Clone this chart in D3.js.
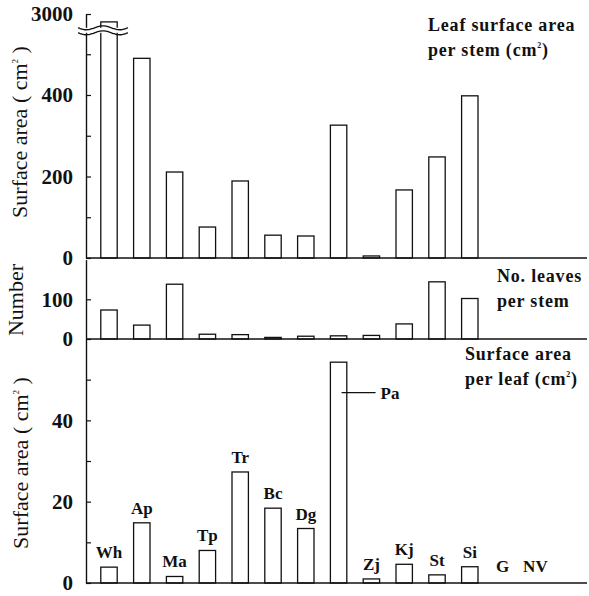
<!DOCTYPE html>
<html lang="en">
<head>
  <meta charset="UTF-8">
  <title>Leaf surface area</title>
  <style>
    body, html { margin: 0; padding: 0; background: #fff; }
    #svg { display: block; }
  </style>
</head>
<body>
  <svg id="svg" width="589" height="596" font-family="Liberation Serif"></svg>
  <script src="https://d3js.org/d3.v7.min.js"></script>
  <script>
    // ----- DATA ----------
    const categories = ['Wh', 'Ap', 'Ma', 'Tp', 'Tr', 'Bc', 'Dg', 'Pa', 'Zj', 'Kj', 'St', 'Si', 'G', 'NV']
    // leaf surface area per stem (cm2), Wh goes past the axis break
    const areaPerStem = [2850, 490, 211, 76, 189, 56, 54, 326, 5, 167, 248, 398, 0, 0]
    // number of leaves per stem
    const leavesPerStem = [73, 35, 138, 12, 11, 4, 7, 8, 9, 38, 144, 102, 0, 0]
    // surface area per leaf (cm2)
    const areaPerLeaf = [3.9, 14.8, 1.6, 8.0, 27.3, 18.4, 13.4, 54.3, 1.0, 4.6, 2.0, 4.0, 0, 0]

    const topTicks = [0, 100, 200, 300, 400, 500, 3000]
    const topTickLabels = [0, 200, 400, 3000]
    const midTicks = [0, 100]
    const midTickLabels = [0, 100]
    const botTicks = [0, 10, 20, 30, 40, 50]
    const botTickLabels = [0, 20, 40]

    const SERIF = '"Liberation Serif", "Times New Roman", serif'

    // ----- LAYOUT ----------
    const axisX = 86
    const rightX = 587
    const svg = d3.select('#svg')

    // ----- SCALES ----------
    const xScale = d3.scaleBand()
      .domain(categories)
      .range([92.6, 92.6 + 14 * 32.8])
      .paddingInner(0.5)
      .paddingOuter(0.25)

    // piecewise scale: the gap 560..2700 is hidden by the break
    const yTop = d3.scaleLinear()
      .domain([0, 560, 2700, 3000])
      .range([258, 29.8, 29.8, 14])
    const yMid = d3.scaleLinear().domain([0, 200]).range([339, 259.6])
    const yBot = d3.scaleLinear().domain([0, 60]).range([583, 339])

    // ----- DRAW ----------
    function drawBars(values, y) {
      svg.append('g')
        .selectAll('rect')
        .data(values.map((v, i) => ({ c: categories[i], v })).filter(d => d.v > 0))
        .enter()
        .append('rect')
        .attr('x', d => xScale(d.c))
        .attr('y', d => y(d.v))
        .attr('width', xScale.bandwidth())
        .attr('height', d => y(0) - y(d.v))
        .attr('fill', 'white')
        .attr('stroke', '#111')
        .attr('stroke-width', 1.3)
    }

    function drawAxis(y, ticks, labels) {
      const axis = d3.axisLeft(y)
        .tickValues(ticks)
        .tickSizeInner(-5)
        .tickSizeOuter(0)
        .tickPadding(13)
        .tickFormat(d => labels.includes(d) ? d : '')
      const g = svg.append('g')
        .attr('transform', `translate(${axisX},0)`)
        .call(axis)
      g.attr('font-family', null)
      g.select('.domain').attr('stroke', '#111').attr('stroke-width', 1.4)
      g.selectAll('.tick line').attr('stroke', '#111').attr('stroke-width', 1.2)
      g.selectAll('.tick text')
        .style('font-family', SERIF)
        .style('font-weight', 'bold')
        .style('font-size', '21px')
        .attr('fill', '#111')
      // zero line across the panel
      svg.append('line')
        .attr('x1', axisX).attr('x2', rightX)
        .attr('y1', y(0)).attr('y2', y(0))
        .attr('stroke', '#111').attr('stroke-width', 1.4)
    }

    drawBars(areaPerStem, yTop)
    drawBars(leavesPerStem, yMid)
    drawBars(areaPerLeaf, yBot)

    drawAxis(yTop, topTicks, topTickLabels)
    drawAxis(yMid, midTicks, midTickLabels)
    drawAxis(yBot, botTicks, botTickLabels)

    // ----- AXIS BREAK ----------
    const breakY = yTop(560)
    const wave = (offset) => {
      const pts = d3.range(0, 51, 2).map(t => [axisX - 8 + t, breakY + offset + 2 * Math.sin(t / 50 * 2 * Math.PI * 1.5)])
      return d3.line().curve(d3.curveBasis)(pts)
    }
    svg.append('rect')
      .attr('x', axisX - 8).attr('y', breakY - 2)
      .attr('width', 50).attr('height', 5)
      .attr('fill', 'white')
    svg.append('path').attr('d', wave(-2)).attr('fill', 'none').attr('stroke', '#111').attr('stroke-width', 1.3)
    svg.append('path').attr('d', wave(3)).attr('fill', 'none').attr('stroke', '#111').attr('stroke-width', 1.3)

    // ----- BAR LABELS (bottom panel) ----------
    const labelData = categories.map((c, i) => ({ c, v: areaPerLeaf[i] })).filter(d => d.c !== 'Pa')
    svg.append('g')
      .selectAll('text')
      .data(labelData)
      .enter()
      .append('text')
      .attr('x', d => xScale(d.c) + xScale.bandwidth() / 2)
      .attr('y', d => yBot(d.v) - (d.v > 0 ? 9 : 11))
      .attr('text-anchor', 'middle')
      .style('font-family', SERIF)
      .style('font-weight', 'bold')
      .style('font-size', '17px')
      .attr('fill', '#111')
      .text(d => d.c)

    // Pa label with leader line
    const paX = xScale('Pa') + xScale.bandwidth() / 2
    svg.append('line')
      .attr('x1', paX + 3).attr('x2', paX + 37)
      .attr('y1', yBot(46.8)).attr('y2', yBot(46.8))
      .attr('stroke', '#111').attr('stroke-width', 1.2)
    svg.append('text')
      .attr('x', paX + 42).attr('y', yBot(46.8) + 6)
      .style('font-family', SERIF)
      .style('font-weight', 'bold')
      .style('font-size', '17px')
      .attr('fill', '#111')
      .text('Pa')

    // ----- PANEL TITLES ----------
    function title(x, y, lines) {
      const t = svg.append('text')
        .attr('x', x).attr('y', y)
        .style('font-family', SERIF)
        .style('font-weight', 'bold')
        .style('font-size', '18px')
        .style('letter-spacing', '0.8px')
        .attr('fill', '#111')
      lines.forEach((ln, i) => {
        const row = t.append('tspan').attr('x', x).attr('y', y + i * 25)
        row.text(ln[0])
        if (ln[1]) {
          row.append('tspan').style('font-size', '8px').attr('dy', -8).text('2')
          row.append('tspan').attr('dy', 8).text(ln[1])
        }
      })
    }
    title(428, 31, [['Leaf surface area'], ['per stem (cm', ')']])
    title(497, 282, [['No. leaves'], ['per stem']])
    title(465, 360, [['Surface area'], ['per leaf (cm', ')']])

    // ----- Y AXIS TITLES ----------
    function yTitle(cx, cy, main, unit) {
      const t = svg.append('text')
        .attr('transform', `translate(${cx},${cy})rotate(-90)`)
        .attr('text-anchor', 'middle')
        .style('font-family', SERIF)
        .style('font-size', '22px')
        .attr('fill', '#111')
      t.append('tspan').text(main)
      if (unit) {
        t.append('tspan').text(' ( cm')
        t.append('tspan').style('font-size', '9px').attr('dy', -9).text('2')
        t.append('tspan').attr('dy', 9).text(' )')
      }
    }
    yTitle(27, 132, 'Surface area', true)
    yTitle(23, 300, 'Number', false)
    yTitle(28, 463, 'Surface area', true)
  </script>
</body>
</html>
